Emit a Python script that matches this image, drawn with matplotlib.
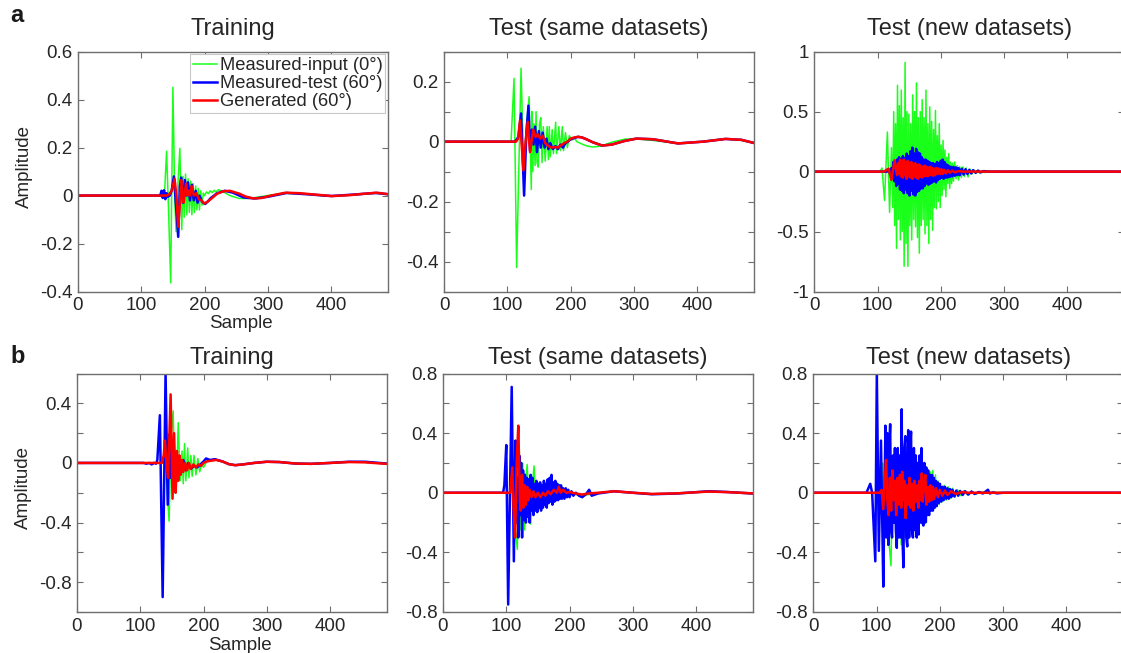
import matplotlib
matplotlib.use("Agg")
import matplotlib.pyplot as plt

plt.rcParams['font.family'] = ['Liberation Sans', 'DejaVu Sans']
plt.rcParams['axes.unicode_minus'] = False

# ---- data: (sample, amplitude) turning points ----
# row a
a1_green = [(0, 0), (134, 0), (137, 0.02), (140, 0.185), (143, -0.05), (146.5, -0.364), (150, 0.452),
            (153, -0.02), (155, -0.15), (158, 0.05), (161, 0.197), (164, -0.142), (166, 0.08), (168, -0.09),
            (170, 0.09), (172, -0.08), (174, 0.07), (176, -0.07), (178, 0.06), (180, -0.08), (182, 0.05),
            (184, -0.07), (186, 0.04), (188, -0.06), (190, 0.03), (192, -0.06), (194, 0.02), (196, -0.04),
            (198, 0.01), (200, 0.0), (203, 0.015), (206, 0.008), (209, 0.02), (212, 0.012), (215, 0.022),
            (218, 0.015), (222, 0.025), (230, 0.015), (240, 0.0), (255, -0.012), (270, -0.012), (290, -0.004),
            (325, 0.01), (360, 0.006), (400, -0.003), (440, 0.004), (470, 0.01), (489, 0.006)]
a1_blue = [(0, 0), (130, 0), (132, 0.02), (134, -0.01), (136, 0.022), (138, -0.015), (140, 0.01), (142, -0.005),
           (145, 0.0), (148, 0.02), (151.6, 0.08), (158.4, -0.172), (161, 0.04), (163, 0.075), (166, -0.03),
           (169, 0.065), (171, 0.0), (174, 0.055), (177, -0.02), (180, 0.045), (183, -0.02), (186, 0.02),
           (189, -0.03), (192, 0.0), (195, -0.02), (198, -0.03), (201, -0.035), (205, -0.025), (210, -0.01),
           (220, 0.01), (232, 0.02), (245, 0.012), (262, -0.008), (280, -0.012), (300, -0.005), (330, 0.011),
           (365, 0.005), (400, -0.002), (440, 0.005), (470, 0.011), (489, 0.006)]
a1_red = [(0, 0), (140, 0), (144, 0.005), (148, 0.02), (152.6, 0.07), (155.5, 0.0), (158.4, -0.13), (160.5, -0.05),
          (163, 0.065), (165, 0.0), (167, -0.03), (169, 0.02), (171, 0.05), (173, 0.0), (175, 0.02), (177, 0.0),
          (179.5, 0.04), (183, 0.0), (187, 0.01), (191, -0.015), (195, -0.02), (199.5, -0.033), (205, -0.025),
          (212, -0.01), (220, 0.008), (230, 0.018), (240, 0.02), (255, 0.008), (265, -0.004), (277, -0.012),
          (290, -0.01), (305, 0.0), (328, 0.012), (350, 0.01), (375, 0.004), (402, -0.002), (430, 0.002),
          (450, 0.007), (473, 0.012), (489, 0.006)]

a2_green = [(0, 0), (106, 0), (110.7, 0.211), (114.8, -0.42), (121.8, 0.245), (126, -0.107), (130, 0.05),
            (134.6, 0.15), (138, -0.16), (139, 0.1), (140.4, -0.1), (142, 0.06), (144, -0.08), (145.5, 0.1),
            (147, -0.07), (149, -0.085), (151, 0.06), (153, 0.08), (155, -0.07), (157, 0.05), (160, -0.065),
            (163, 0.05), (165, -0.06), (166.5, 0.05), (168, -0.05), (171, 0.04), (173, -0.04), (176.5, 0.065),
            (178, -0.04), (181.5, 0.05), (184, -0.03), (187, 0.05), (189, -0.03), (192, 0.03), (195, -0.02),
            (198, 0.02), (202, 0.005), (206, 0.012), (210, 0.0), (215, -0.005), (220, -0.01), (227, -0.015),
            (235, -0.018), (248, -0.015), (265, -0.002), (285, 0.008), (300, 0.01), (330, 0.004), (370, -0.006),
            (410, 0.0), (445, 0.009), (470, 0.004), (489, -0.004)]
a2_blue = [(0, 0), (112, 0), (116, 0.01), (118, 0.02), (121.8, 0.094), (126.6, -0.18), (130, 0.02), (133.5, 0.12),
           (136, -0.03), (139, 0.04), (141.5, -0.01), (144, 0.05), (147, -0.035), (150, 0.035), (153, -0.02),
           (156, 0.03), (159, -0.02), (162, 0.01), (165, -0.025), (168, -0.005), (172, -0.025), (176, -0.015),
           (180, -0.025), (184, -0.01), (188, -0.02), (192, -0.005), (196, 0.0), (200, 0.008), (206, 0.012),
           (212, 0.016), (218, 0.014), (225, 0.008), (235, -0.002), (250, -0.013), (265, -0.01), (285, 0.002),
           (304, 0.01), (330, 0.008), (370, -0.006), (410, 0.0), (445, 0.009), (470, 0.006), (489, -0.004)]
a2_red = [(0, 0), (114, 0), (117, 0.01), (120.2, 0.071), (125.5, -0.096), (129, 0.0), (132.4, 0.066), (136, -0.035),
          (141, 0.04), (145, 0.015), (148, 0.025), (152, 0.01), (156, 0.02), (160, -0.005), (165, -0.015),
          (170, -0.02), (175, -0.018), (180, -0.02), (185, -0.012), (190, -0.005), (195, 0.0), (200, 0.01),
          (206, 0.014), (212, 0.016), (218, 0.014), (225, 0.008), (235, -0.002), (250, -0.013), (265, -0.01),
          (285, 0.002), (304, 0.01), (330, 0.008), (370, -0.006), (410, 0.0), (445, 0.009), (470, 0.006),
          (489, -0.004)]

a3_green = [(0, 0), (104, 0), (107, 0.03), (111, -0.24), (115.5, 0.33), (119, -0.34), (122, 0.2), (124, -0.3),
            (125.5, 0.5), (127, -0.45), (128.5, 0.4), (130, -0.64), (131.5, 0.72), (133, -0.4), (134.5, 0.55),
            (136, -0.57), (137.5, 0.68), (139, -0.5), (140.5, 0.45), (142, -0.79), (143.5, 0.91), (145, -0.6),
            (146.5, 0.5), (148, -0.79), (149.5, 0.48), (151, -0.45), (152.5, 0.4), (154, -0.57), (155.5, 0.64),
            (157, -0.4), (158.5, 0.5), (160, -0.46), (161.5, 0.74), (163, -0.55), (164.5, 0.45), (166, -0.68),
            (167.5, 0.5), (169, -0.45), (170.5, 0.6), (172, -0.4), (173.5, 0.45), (175, -0.52), (176.5, 0.68),
            (178, -0.45), (179.5, 0.4), (181, -0.6), (182.5, 0.54), (184, -0.4), (185.5, 0.42), (187, -0.49),
            (188.5, 0.35), (190, -0.3), (191.5, 0.51), (193, -0.31), (194.5, 0.3), (196, -0.25), (197.5, 0.4),
            (199, -0.3), (200.5, 0.22), (202, -0.2), (203.5, 0.26), (205, -0.15), (206.5, 0.18), (208, -0.21),
            (209.5, 0.12), (211, -0.1), (212.5, 0.15), (214, -0.14), (215.5, 0.08), (217, -0.1), (218.5, 0.07),
            (220, -0.08), (222, 0.08), (224, -0.06), (226, 0.05), (228, -0.07), (230, 0.04), (232.5, -0.05),
            (235, 0.04), (237.5, -0.04), (240, 0.03), (243, -0.045), (246, 0.02), (249, -0.02), (252, 0.015),
            (255, -0.015), (258, 0.012), (262, -0.015), (266, 0.008), (270, -0.008), (276, 0.005), (282, -0.005),
            (290, 0.003), (300, -0.004), (310, 0), (489, 0)]
a3_blue = [(0, 0), (115, 0), (118, 0.01), (120, -0.02), (122, 0.03), (123.5, -0.05), (125, 0.08), (126.5, -0.08),
           (128, 0.07), (129.5, -0.12), (131, 0.1), (132.5, -0.1), (134, 0.12), (135.5, -0.15), (137, 0.1),
           (138.5, -0.16), (140, 0.13), (141.5, -0.18), (143, 0.11), (144.5, -0.15), (146, 0.15), (147.5, -0.18),
           (149, 0.13), (150.5, -0.2), (152, 0.17), (153.5, -0.16), (155, 0.2), (156.5, -0.19), (158, 0.15),
           (159.5, -0.2), (161, 0.19), (162.5, -0.17), (164, 0.16), (165.5, -0.16), (167, 0.15), (168.5, -0.14),
           (170, 0.12), (171.5, -0.14), (173, 0.1), (174.5, -0.12), (176, 0.1), (177.5, -0.1), (179, 0.09),
           (180.5, -0.11), (182, 0.08), (183.5, -0.1), (185, 0.07), (186.5, -0.09), (188, 0.07), (189.5, -0.08),
           (191, 0.06), (192.5, -0.09), (194, 0.08), (195.5, -0.07), (197, 0.07), (198.5, -0.06), (200, 0.09),
           (201.5, -0.05), (203, 0.1), (204.5, -0.06), (206, 0.08), (207.5, -0.05), (209, 0.06), (210.5, -0.05),
           (212, 0.05), (214, -0.045), (216, 0.04), (218, -0.04), (220, 0.04), (222, -0.035), (224, 0.035),
           (226, -0.03), (228, 0.03), (230, -0.03), (233, 0.025), (236, -0.025), (239, 0.02), (242, -0.02),
           (245, 0.015), (248, -0.015), (251, 0.012), (255, -0.01), (259, 0.008), (263, -0.006), (268, 0.004),
           (275, 0), (489, 0)]
a3_red = [(0, 0), (110, 0), (113, 0.01), (117.5, 0.025), (121.8, -0.07), (127, 0.095), (130.7, -0.03), (132.5, 0.07),
          (134, -0.02), (135.5, 0.1), (137, -0.04), (138.5, 0.09), (140, -0.05), (141.5, 0.1), (143, -0.03),
          (144.5, 0.08), (146, -0.06), (147.5, 0.09), (149, -0.04), (150.5, 0.07), (152, -0.05), (153.5, 0.08),
          (155, -0.06), (156.5, 0.06), (158, -0.04), (159.5, 0.07), (161, -0.05), (162.5, 0.05), (164, -0.06),
          (165.5, 0.06), (167, -0.04), (168.5, 0.05), (170, -0.05), (171.5, 0.04), (173, -0.04), (174.5, 0.05),
          (176, -0.035), (177.5, 0.04), (179, -0.04), (180.5, 0.035), (182, -0.03), (183.5, 0.04), (185, -0.03),
          (186.5, 0.03), (188, -0.035), (189.5, 0.025), (191, -0.03), (193, 0.03), (195, -0.02), (197, 0.025),
          (199, -0.02), (201, 0.02), (203, -0.02), (205, 0.015), (208, -0.015), (211, 0.012), (214, -0.01),
          (218, 0.008), (222, -0.006), (228, 0.004), (235, 0), (489, 0)]

# row b
b1_green = [(0, 0), (136, 0), (139, 0.05), (142, -0.15), (145.5, -0.39), (149, 0.2), (152, 0.35), (155, -0.2),
            (157, -0.15), (160, 0.27), (163, -0.12), (166, 0.08), (168, -0.14), (170, 0.13), (172, -0.12),
            (175, 0.1), (177, -0.1), (180, 0.05), (182, -0.09), (185, 0.05), (188, -0.08), (191, 0.03), (194, -0.06),
            (197, 0.0), (200, -0.03), (205, 0.01), (210, 0.02), (216, 0.022), (225, 0.015), (235, 0.0),
            (250, -0.015), (262, -0.01), (280, 0.0), (300, 0.008), (320, 0.006), (345, -0.004), (370, -0.006),
            (400, 0.0), (430, 0.006), (455, 0.005), (489, -0.004)]
b1_blue = [(0, 0), (105, 0), (110, -0.005), (114, 0.0), (118, -0.01), (122, 0.0), (125, -0.005), (127, 0.02),
           (131, 0.32), (135.4, -0.9), (140, 0.6), (143.4, -0.28), (146, 0.19), (148, -0.1), (150, 0.12),
           (153, -0.1), (156, 0.05), (159, -0.08), (162, 0.03), (165, -0.06), (168, 0.02), (172, -0.05), (176, 0.0),
           (180, -0.04), (185, -0.02), (190, -0.03), (195, -0.01), (200, 0.01), (204, 0.03), (210, 0.02),
           (218, 0.025), (230, 0.01), (240, -0.008), (250, -0.015), (262, -0.01), (280, 0.0), (300, 0.008),
           (320, 0.006), (345, -0.004), (370, -0.006), (400, 0.0), (430, 0.008), (455, 0.008), (489, -0.004)]
b1_red = [(0, 0), (134, 0), (137, 0.05), (139, 0.15), (141.5, 0.0), (144, -0.1), (148, 0.46), (151, -0.24),
          (153.5, 0.2), (156, -0.2), (158, 0.08), (160, -0.12), (162, 0.05), (164, -0.08), (166, 0.02), (168, -0.06),
          (171, 0.0), (174, -0.05), (177, 0.0), (180, -0.04), (184, -0.01), (188, -0.03), (192, -0.01),
          (196, -0.02), (200, 0.0), (205, 0.01), (212, 0.015), (220, 0.02), (230, 0.01), (240, -0.008),
          (250, -0.015), (262, -0.01), (280, 0.0), (300, 0.008), (320, 0.006), (345, -0.004), (370, -0.006),
          (400, 0.0), (430, 0.006), (455, 0.004), (489, -0.006)]

b2_green = [(0, 0), (106, 0), (110, 0.1), (113, -0.2), (117.5, -0.38), (120, 0.42), (123, -0.25), (126, 0.2),
            (129, -0.25), (131, 0.1), (133, 0.19), (136, -0.1), (138.7, -0.21), (141, 0.05), (144, 0.18),
            (147, -0.12), (150, 0.06), (153, -0.1), (156, 0.05), (159, -0.08), (162, 0.04), (165, -0.06), (168, 0.05),
            (171, -0.05), (174, 0.04), (177, -0.04), (180, 0.05), (182, 0.06), (185, -0.02), (188, 0.04),
            (192, -0.02), (196, 0.02), (200, -0.01), (205, 0.0), (215, -0.02), (225, -0.015), (235, -0.01),
            (250, 0.0), (270, 0.01), (300, 0.0), (330, -0.01), (370, -0.005), (420, 0.01), (450, 0.005),
            (489, -0.005)]
b2_blue = [(0, 0), (95, 0), (97, 0.05), (100, 0.32), (103, -0.75), (108.6, 0.71), (112, -0.46), (114.5, 0.35),
           (116, -0.2), (117.5, 0.1), (119, -0.3), (120.5, 0.25), (122, -0.15), (123.5, 0.2), (125, -0.3),
           (126.5, 0.15), (128, -0.18), (129.5, 0.12), (131, -0.2), (132.5, 0.1), (134, -0.16), (135.5, 0.09),
           (137, -0.2), (138.5, 0.12), (140, -0.12), (141.5, 0.1), (143, -0.15), (144.5, 0.06), (146, -0.12),
           (147.5, 0.08), (149, -0.13), (150.5, 0.06), (152, -0.1), (153.5, 0.07), (155, -0.12), (156.5, 0.05),
           (158, -0.1), (159.5, 0.08), (161, -0.08), (162.5, 0.06), (164, -0.1), (165.5, 0.09), (167, -0.07),
           (168.5, 0.1), (170, -0.06), (171.5, 0.12), (173, -0.08), (174.5, 0.07), (176, -0.06), (177.5, 0.08),
           (179, -0.05), (180.5, 0.06), (182, -0.05), (183.5, 0.05), (185, -0.04), (186.5, 0.05), (188, -0.04),
           (190, 0.03), (192, -0.04), (194, 0.03), (196, -0.03), (198, 0.02), (200, -0.03), (203, 0.01),
           (206, -0.02), (210, 0.0), (215, -0.02), (220, -0.03), (226, -0.01), (231, 0.02), (235, -0.02),
           (245, -0.005), (270, 0.01), (300, 0.0), (330, -0.01), (370, -0.005), (420, 0.01), (450, 0.005),
           (489, -0.005)]
b2_red = [(0, 0), (106, 0), (109.5, 0.17), (111.5, -0.1), (114, -0.3), (116.5, 0.2), (119, 0.45), (121.5, -0.05),
          (123, -0.12), (125, 0.12), (127, -0.1), (129, 0.05), (131, -0.08), (133, 0.04), (135, -0.05), (137, 0.02),
          (140, -0.03), (143, 0.01), (146, -0.03), (150, 0.0), (154, -0.03), (158, 0.0), (162, -0.02), (166, 0.01),
          (170, -0.01), (175, 0.02), (180, 0.0), (183, 0.04), (186, 0.0), (190, 0.02), (195, 0.0), (200, 0.005),
          (210, -0.005), (220, -0.012), (230, -0.005), (245, 0.0), (270, 0.01), (300, 0.0), (330, -0.008),
          (370, -0.004), (420, 0.008), (450, 0.004), (489, -0.004)]

b3_green = [(0, 0), (100, 0), (104, 0.05), (107, -0.1), (110, 0.2), (113, -0.25), (116, 0.25), (119, -0.3),
            (122.8, -0.49), (125, 0.1), (127, -0.2), (129.7, 0.3), (131.5, -0.25), (133, 0.28), (135, -0.3),
            (137, 0.2), (139, -0.35), (141, 0.25), (143, -0.3), (145, 0.3), (147, -0.25), (149, 0.2), (151, -0.3),
            (153, 0.25), (155, -0.2), (157, 0.22), (159, -0.25), (161, 0.2), (163, -0.2), (165, 0.15), (167, -0.22),
            (169, 0.18), (171, -0.2), (173, 0.15), (175, -0.18), (177, 0.12), (179, -0.2), (181, 0.12), (183, -0.15),
            (185, 0.14), (187, -0.12), (189, 0.15), (191, -0.1), (193, 0.12), (195, -0.08), (197, 0.08),
            (199, -0.08), (201, 0.06), (204, -0.06), (207, 0.05), (210, -0.05), (213, 0.04), (216, -0.04),
            (220, 0.03), (224, -0.03), (228, 0.02), (233, -0.02), (238, 0.015), (244, -0.015), (250, 0.01),
            (258, -0.008), (266, 0.006), (275, -0.004), (285, 0.003), (300, 0), (489, 0)]
b3_blue = [(0, 0), (84, 0), (87, 0.03), (90, 0.06), (93, 0.0), (98, -0.46), (100.4, 0.8), (103.6, -0.39),
           (107, 0.35), (109, -0.2), (110.6, -0.63), (114, 0.45), (115.5, -0.3), (117, 0.4), (118.5, -0.35),
           (120, 0.3), (121.5, 0.46), (123, -0.25), (124.5, -0.3), (126, 0.25), (127.5, -0.2), (129, 0.3),
           (130.5, -0.25), (132, -0.37), (133.5, 0.3), (135, -0.3), (136.5, 0.25), (138, -0.3), (139.7, 0.56),
           (141, -0.3), (142.4, -0.5), (144, 0.3), (145.5, 0.38), (147, -0.3), (148.5, -0.36), (150, 0.42),
           (151.5, -0.3), (153, 0.3), (154.5, 0.41), (156, -0.25), (157.5, -0.3), (159, 0.3), (160.5, -0.25),
           (162, 0.25), (163.5, -0.3), (165, 0.2), (166.5, -0.28), (168, 0.25), (169.5, -0.2), (171, 0.3),
           (172.5, -0.2), (174, -0.22), (175.5, 0.2), (177, -0.2), (178.5, 0.17), (180, -0.15), (181.5, 0.15),
           (183, -0.15), (184.5, 0.12), (186, -0.12), (187.5, 0.12), (189, -0.12), (190.5, 0.1), (192, -0.1),
           (193.5, 0.08), (195, -0.09), (196.5, 0.07), (198, -0.07), (200, 0.06), (202, -0.06), (204, 0.04),
           (206, -0.05), (208, 0.04), (210, -0.04), (212, 0.03), (214, -0.04), (216, 0.025), (218, -0.03),
           (220, 0.02), (223, -0.025), (226, 0.015), (229, -0.02), (232, 0.012), (236, -0.015), (240, 0.01),
           (245, -0.012), (250, 0.008), (255, -0.008), (262, 0.005), (268, -0.005), (273, 0.01), (276, 0.02),
           (279, -0.005), (284, 0.003), (290, -0.004), (300, 0.0), (489, 0)]
b3_red = [(0, 0), (105, 0), (108, 0.02), (110.6, -0.11), (112.5, 0.05), (115, 0.22), (117, -0.05), (119, -0.15),
          (121, 0.1), (123, -0.12), (125, 0.15), (127, -0.05), (129, 0.08), (131, -0.15), (133, 0.1), (135, -0.08),
          (137, 0.12), (139, -0.1), (140.5, 0.14), (142, -0.05), (144, 0.08), (146, -0.17), (148, 0.05),
          (150, -0.08), (152, 0.1), (154, -0.1), (156, 0.06), (158, -0.12), (160, 0.08), (162, -0.06), (164, 0.05),
          (166, -0.1), (168, 0.08), (170, -0.05), (171.5, 0.13), (173, -0.06), (175, 0.05), (177, 0.12),
          (179, -0.08), (181, 0.04), (183, -0.06), (185, 0.05), (187, -0.05), (189, 0.04), (191, -0.04),
          (194, 0.03), (197, -0.03), (200, 0.02), (204, -0.02), (208, 0.015), (212, -0.015), (218, 0.01),
          (225, -0.008), (235, 0.004), (245, 0), (489, 0)]

titles = ["Training", "Test (same datasets)", "Test (new datasets)"]
legend_labels = ["Measured-input (0\u00b0)", "Measured-test (60\u00b0)", "Generated (60\u00b0)"]
x_ticks = [0, 100, 200, 300, 400]

GREEN = '#1aff1a'
BLUE = '#0000ff'
RED = '#ff0000'
TXT = '#262626'
FRAME = '#6e6e6e'

W, H = 1121, 653
fig = plt.figure(figsize=(W / 100, H / 100), dpi=100)


def add_axes(left, top, bottom, width=310.0):
    return fig.add_axes([left / W, 1 - bottom / H, width / W, (bottom - top) / H])


def fmt(v):
    s = f"{v:g}"
    return "0" if s in ("0", "-0") else s


def style(ax, yticks, ylabels, ylim):
    ax.set_xlim(0, 490)
    ax.set_ylim(*ylim)
    ax.set_xticks(x_ticks, [str(t) for t in x_ticks])
    ax.set_yticks(yticks, [fmt(t) if t in ylabels else "" for t in yticks])
    ax.tick_params(direction='in', top=True, right=True, length=4, width=0.8,
                   color=FRAME, labelsize=13.5, labelcolor=TXT, pad=4)
    for sp in ax.spines.values():
        sp.set_color(FRAME)
        sp.set_linewidth(1.0)


def draw(ax, green, blue, red):
    handles = []
    for pts, c, lw, lab in ((green, GREEN, 1.1, legend_labels[0]),
                            (blue, BLUE, 1.8, legend_labels[1]),
                            (red, RED, 1.8, legend_labels[2])):
        xs, ys = zip(*pts)
        h, = ax.plot(xs, ys, color=c, lw=lw, label=lab)
        handles.append(h)
    return handles


lefts = [78, 444, 814.3]
row_a = [(a1_green, a1_blue, a1_red), (a2_green, a2_blue, a2_red), (a3_green, a3_blue, a3_red)]
row_b = [(b1_green, b1_blue, b1_red), (b2_green, b2_blue, b2_red), (b3_green, b3_blue, b3_red)]

a_ticks = [
    ([-0.4, -0.2, 0, 0.2, 0.4, 0.6], [-0.4, -0.2, 0, 0.2, 0.4, 0.6], (-0.4, 0.6)),
    ([-0.5, -0.4, -0.3, -0.2, -0.1, 0, 0.1, 0.2, 0.3], [-0.4, -0.2, 0, 0.2], (-0.5, 0.3)),
    ([-1, -0.5, 0, 0.5, 1], [-1, -0.5, 0, 0.5, 1], (-1, 1)),
]
b_ticks = [
    ([-1, -0.8, -0.6, -0.4, -0.2, 0, 0.2, 0.4, 0.6], [-0.8, -0.4, 0, 0.4], (-1, 0.6)),
    ([-0.8, -0.6, -0.4, -0.2, 0, 0.2, 0.4, 0.6, 0.8], [-0.8, -0.4, 0, 0.4, 0.8], (-0.8, 0.8)),
    ([-0.8, -0.6, -0.4, -0.2, 0, 0.2, 0.4, 0.6, 0.8], [-0.8, -0.4, 0, 0.4, 0.8], (-0.8, 0.8)),
]

for i in range(3):
    ax = add_axes(lefts[i], 51.7, 291.5)
    hs = draw(ax, *row_a[i])
    style(ax, *a_ticks[i])
    ax.set_title(titles[i], fontsize=17, color=TXT, pad=12)
    if i == 0:
        ax.set_ylabel("Amplitude", fontsize=13.5, color=TXT)
        ax.yaxis.set_label_coords(-0.145, 0.52)
        ax.set_xlabel("Sample", fontsize=13.5, color=TXT)
        ax.xaxis.set_label_coords(0.525, -0.1)
        leg = ax.legend(handles=hs, loc='upper right', fontsize=13.2, frameon=True, fancybox=False,
                        edgecolor='#c8c8c8', framealpha=1, borderpad=0.15, labelspacing=0.05,
                        handlelength=1.3, handletextpad=0.15, borderaxespad=0.15)
        leg.get_frame().set_linewidth(0.8)
        for t in leg.get_texts():
            t.set_color(TXT)

for i in range(3):
    ax = add_axes(lefts[i] - 1, 373.5, 612)
    draw(ax, *row_b[i])
    style(ax, *b_ticks[i])
    ax.set_title(titles[i], fontsize=17, color=TXT, pad=6.5)
    if i == 0:
        ax.set_ylabel("Amplitude", fontsize=13.5, color=TXT)
        ax.yaxis.set_label_coords(-0.145, 0.52)
        ax.set_xlabel("Sample", fontsize=13.5, color=TXT)
        ax.xaxis.set_label_coords(0.525, -0.105)

fig.text(10 / W, 1 - 22 / H, "a", fontsize=17, fontweight='bold', color='#1a1a1a')
fig.text(10 / W, 1 - 363 / H, "b", fontsize=17, fontweight='bold', color='#1a1a1a')

fig.savefig("out.png", dpi=100)
